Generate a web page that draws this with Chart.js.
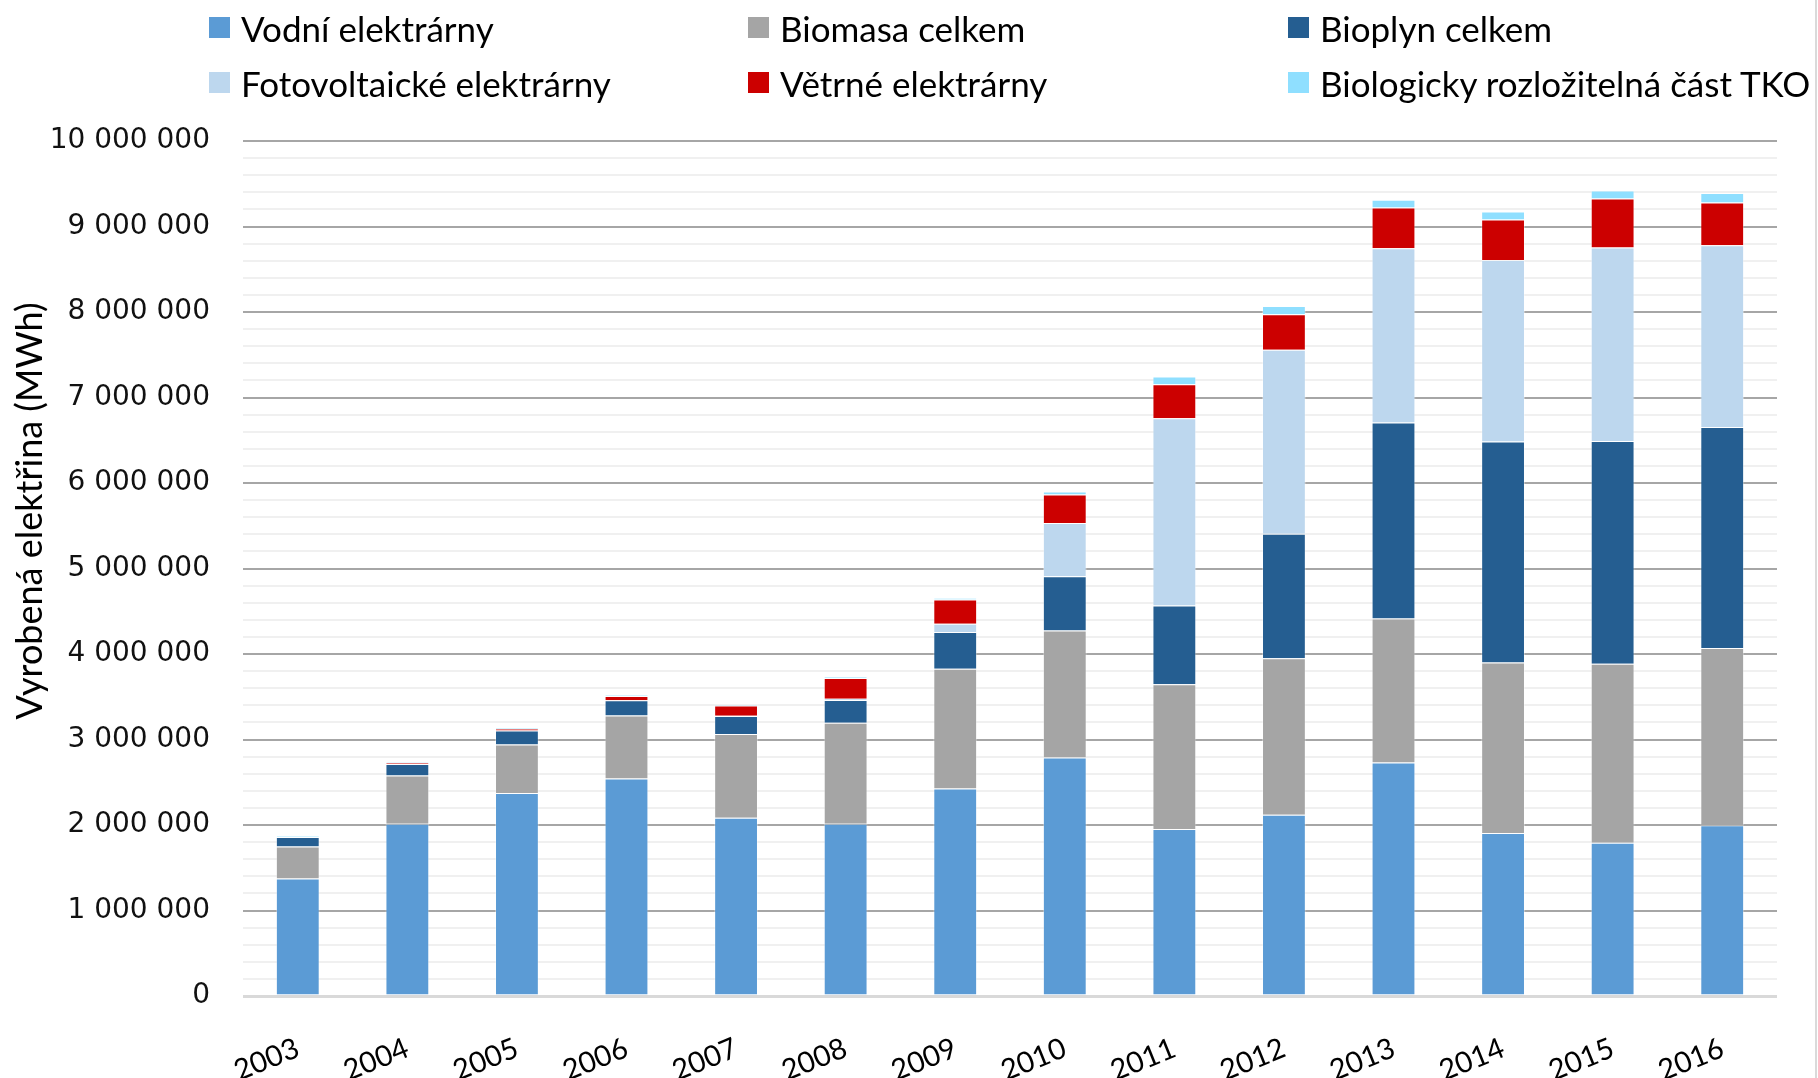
<!DOCTYPE html>
<html>
<head>
<meta charset="utf-8">
<script src="https://cdn.jsdelivr.net/npm/chart.js@4.4.0/dist/chart.umd.min.js"></script>
<style>
  html, body { margin: 0; padding: 0; background: #fff; }
  #wrap { position: relative; width: 1818px; height: 1078px; overflow: hidden; }
  #edge { position: absolute; left: 1815px; top: 0; width: 2px; height: 1078px; background: #dadada; }
  #legend {
    position: absolute; left: 209px; top: 0px;
    display: grid; grid-template-columns: 539px 540px 530px;
    font-family: Lato, sans-serif; font-size: 35px; color: #000;
  }
  #legend .item { display: flex; align-items: center; height: 55px; white-space: nowrap; }
  #legend .box { width: 21px; height: 21px; margin-right: 11px; flex: none; }
</style>
</head>
<body>
<div id="wrap">
  <canvas id="myChart" width="1818" height="1078"></canvas>
  <div id="legend"></div>
  <div id="edge"></div>
</div>
<script>
var years = ['2003', '2004', '2005', '2006', '2007', '2008', '2009', '2010', '2011', '2012', '2013', '2014', '2015', '2016'];

// vyrobená elektřina v MWh
var vodni = [1373000, 2016000, 2373000, 2545000, 2086000, 2016000, 2426000, 2789000, 1953000, 2121000, 2731000, 1906000, 1793000, 1996000];
var biomasa = [376000, 564000, 568000, 737000, 977000, 1180000, 1401000, 1486000, 1692000, 1828000, 1683000, 1996000, 2094000, 2074000];
var bioplyn = [110000, 134000, 165000, 177000, 212000, 267000, 430000, 633000, 923000, 1457000, 2293000, 2582000, 2605000, 2586000];
var fotovoltaika = [0, 0, 0, 1000, 2000, 13000, 98000, 623000, 2190000, 2153000, 2039000, 2125000, 2262000, 2125000];
var vitr = [4000, 10000, 21000, 49000, 120000, 243000, 281000, 334000, 398000, 414000, 477000, 473000, 574000, 500000];
var tko = [10000, 10000, 10000, 10000, 15000, 15000, 22000, 35000, 90000, 97000, 90000, 94000, 94000, 110000];

var yTicks = [0, 1000000, 2000000, 3000000, 4000000, 5000000, 6000000, 7000000, 8000000, 9000000, 10000000];
var yTitle = 'Vyrobená elektřina (MWh)';

function mezery(v) {
  return String(v).replace(/\B(?=(\d{3})+(?!\d))/g, ' ');
}

// popisek osy y - posazený výš než střed osy
var osaTitulek = {
  id: 'osaTitulek',
  afterDraw: function (chart) {
    var c = chart.ctx;
    c.save();
    c.translate(30, 511);
    c.rotate(-Math.PI / 2);
    c.font = '36px Lato';
    c.fillStyle = '#000';
    c.textAlign = 'center';
    c.textBaseline = 'middle';
    c.fillText(yTitle, 0, 0);
    c.restore();
  }
};

var ctx = document.getElementById('myChart').getContext('2d');

var myChart = new Chart(ctx, {
  type: 'bar',
  data: {
    labels: years,
    datasets: [
      { label: 'Vodní elektrárny', data: vodni, backgroundColor: '#5B9BD5' },
      { label: 'Biomasa celkem', data: biomasa, backgroundColor: '#A5A5A5' },
      { label: 'Bioplyn celkem', data: bioplyn, backgroundColor: '#255E91' },
      { label: 'Fotovoltaické elektrárny', data: fotovoltaika, backgroundColor: '#BDD7EE' },
      { label: 'Větrné elektrárny', data: vitr, backgroundColor: '#CC0000' },
      { label: 'Biologicky rozložitelná část TKO', data: tko, backgroundColor: '#8FDFFF' }
    ]
  },
  plugins: [osaTitulek],
  options: {
    responsive: false,
    animation: false,
    layout: { padding: { top: 141, right: 41, bottom: 0, left: 0 } },
    datasets: {
      bar: {
        barPercentage: 0.8,
        categoryPercentage: 0.5,
        borderWidth: 1,
        borderColor: 'rgba(255,255,255,0.35)'
      }
    },
    plugins: {
      legend: { display: false },
      tooltip: { enabled: false }
    },
    scales: {
      x: {
        stacked: true,
        grid: { display: false },
        border: { display: false },
        afterFit: function (s) { s.height = 82; },
        ticks: {
          color: '#000',
          font: { family: 'Lato', size: 29 },
          minRotation: 22,
          maxRotation: 22,
          padding: 27
        }
      },
      y: {
        stacked: true,
        min: 0,
        max: 10000000,
        border: { display: false },
        afterFit: function (s) { s.width = 243; },
        grid: {
          drawTicks: false,
          color: function (c) {
            var v = c.tick.value;
            if (v === 0) return '#d9d9d9';
            return yTicks.indexOf(v) >= 0 ? '#a6a6a6' : '#f0f0f0';
          },
          lineWidth: function (c) {
            return c.tick.value === 0 ? 3 : 2;
          }
        },
        ticks: {
          stepSize: 200000,
          maxTicksLimit: 100,
          autoSkip: false,
          padding: 33,
          color: '#111',
          font: { family: 'DejaVu Sans', size: 28 },
          callback: function (v) {
            return yTicks.indexOf(v) >= 0 ? mezery(v) : '';
          }
        }
      }
    }
  }
});

// legenda ve třech sloupcích
var legend = document.getElementById('legend');
myChart.data.datasets.forEach(function (ds) {
  var item = document.createElement('div');
  item.className = 'item';
  var box = document.createElement('span');
  box.className = 'box';
  box.style.background = ds.backgroundColor;
  var txt = document.createElement('span');
  txt.textContent = ds.label;
  item.appendChild(box);
  item.appendChild(txt);
  legend.appendChild(item);
});
</script>
</body>
</html>
